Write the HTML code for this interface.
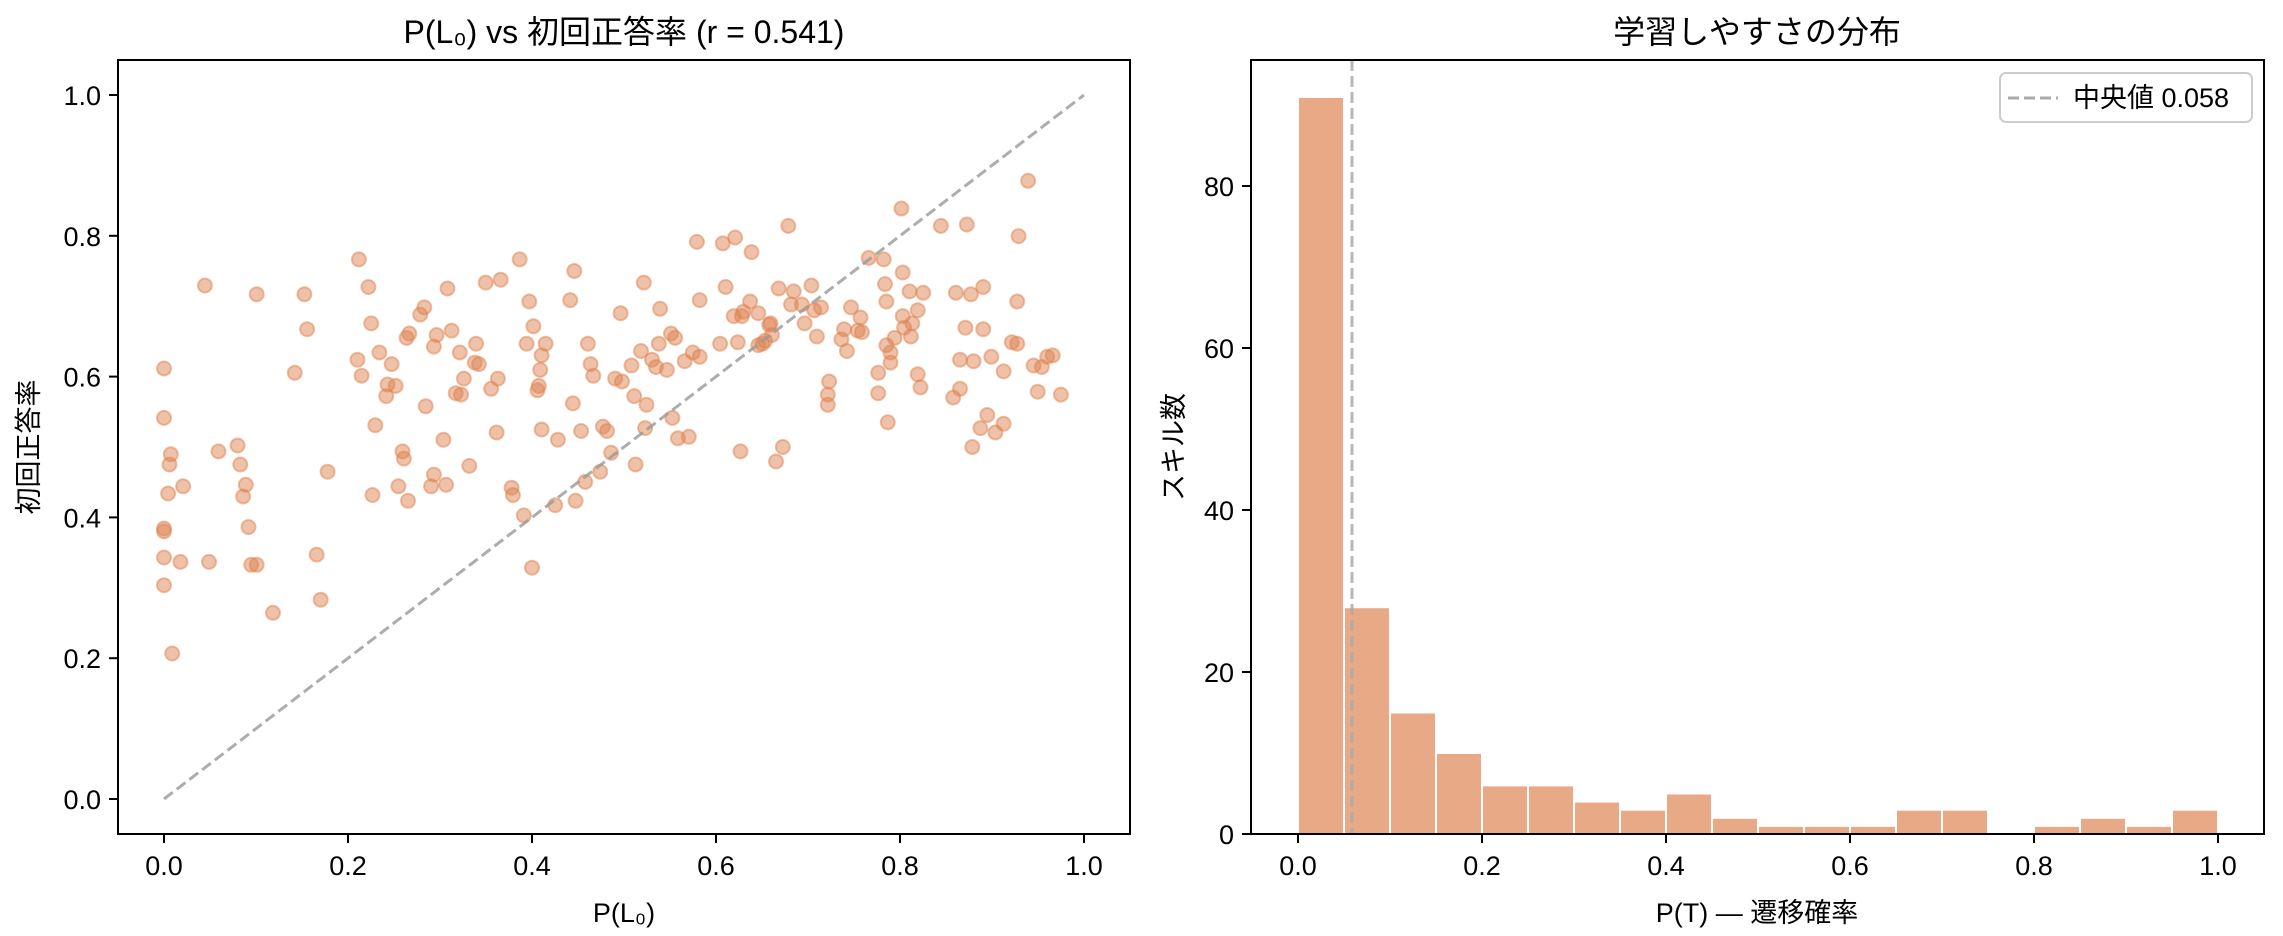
<!DOCTYPE html>
<html><head><meta charset="utf-8"><style>
html,body{margin:0;padding:0;background:#fff;}
svg{display:block;font-family:"Liberation Sans","Noto Sans CJK JP",sans-serif;}
</style></head><body>
<svg id="s" width="2283" height="936" viewBox="0 0 2283 936" xmlns="http://www.w3.org/2000/svg">
<rect width="2283" height="936" fill="#fff"/>
<g id="pts"></g>
<line x1="164" y1="799" x2="1084" y2="95" stroke="#999" stroke-opacity="0.8" stroke-width="3" stroke-dasharray="11,5"/>
<rect x="118" y="60" width="1012" height="774" fill="none" stroke="#000" stroke-width="2"/>
<g id="lt" font-size="27" fill="#000"></g>
<text x="624" y="43" font-size="32" text-anchor="middle">P(L₀) vs 初回正答率 (r = 0.541)</text>
<text x="624" y="922" font-size="27" text-anchor="middle">P(L₀)</text>
<text transform="translate(38,447) rotate(-90)" font-size="27" text-anchor="middle">初回正答率</text>

<g id="bars"></g>
<line x1="1352" y1="60" x2="1352" y2="834" stroke="#aaa" stroke-opacity="0.85" stroke-width="3" stroke-dasharray="11,5"/>
<rect x="1251" y="60" width="1013" height="774" fill="none" stroke="#000" stroke-width="2"/>
<g id="rt" font-size="27" fill="#000"></g>
<text x="1757" y="43" font-size="32" text-anchor="middle">学習しやすさの分布</text>
<text x="1757" y="922" font-size="27" text-anchor="middle">P(T) — 遷移確率</text>
<text transform="translate(1183,447) rotate(-90)" font-size="27" text-anchor="middle">スキル数</text>
<rect x="2000" y="73" width="252" height="49" rx="6" fill="#fff" fill-opacity="0.8" stroke="#ccc" stroke-width="2"/>
<line x1="2008" y1="98" x2="2058" y2="98" stroke="#aaa" stroke-width="3" stroke-dasharray="11,5"/>
<text x="2073" y="107" font-size="27">中央値 0.058</text>
</svg>
<script>
var NS="http://www.w3.org/2000/svg";
function el(p,t,a,txt){var e=document.createElementNS(NS,t);for(var k in a)e.setAttribute(k,a[k]);if(txt!==undefined)e.textContent=txt;p.appendChild(e);return e;}
var P=[[112,253],[112,287],[116,319],[115,339],[112,363],[112,365],[112,383],[112,402],[117,312],[118,449],
[126,334],[124,386],[142,196],[145,386],[152,310],[166,306],[168,319],[170,341],[172,333],[174,362],[176,388],[180,202],[180,388],[192,421],[208,256],[215,202],[217,226],[224,381],[227,412],[232,324],
[254,247],[255,178],[257,258],[262,197],[264,222],[265,340],[267,292],[270,242],[275,272],[276,264],[279,250],[282,265],[284,334],[287,310],[288,315],[290,232],[292,229],[291,344],[300,216],[303,211],[304,279],[308,334],[310,326],[310,238],[312,230],[317,302],[319,333],[320,198],[323,227],[326,270],[329,242],[330,271],[332,260],[336,320],[340,249],[341,236],[343,250],[348,194],[352,267],[356,297],[357,260],[359,192],[367,335],[368,340],[373,178],[376,354],[378,236],[380,207],[382,390],[383,224],[386,268],[387,265],[388,254],[389,244],[389,295],[392,236],[399,347],[401,302],[410,206],[412,277],[413,186],[414,344],[418,296],[421,331],[423,236],[425,250],[427,258],[432,324],[434,293],[437,296],[440,311],[443,260],[447,215],[448,262],[455,251],[457,272],[458,319],[462,241],[464,194],[465,294],[466,278],[470,247],[473,252],[476,212],[475,236],[481,254],[484,229],[485,287],[487,232],[489,301],[494,248],[497,300],[500,242],[503,166],[505,206],[505,245],[520,236],[522,167],[524,197],[531,163],[533,235],[535,310],[536,217],[537,214],[530,217],[543,173],[542,207],[548,215],[548,237],[551,236],[553,234],[557,222],[556,223],[558,230],[561,317],[563,198],[566,307],[570,155],[572,209],[574,200],[580,209],[582,222],[587,196],[589,213],[591,231],[594,211],[599,278],[600,262],[599,271],[609,233],[611,226],[613,241],[616,211],[621,227],[623,218],[624,228],[629,177],[636,270],[636,256],[640,178],[641,195],[642,207],[642,237],[643,290],[645,242],[645,249],[648,232],[653,143],[654,187],[654,217],[655,225],[659,200],[660,231],[661,222],[665,213],[665,257],[667,266],[669,201],[682,155],[691,273],[693,201],[696,247],[696,267],[700,225],[701,154],[704,202],[705,307],[706,248],[711,294],[713,197],[713,226],[716,285],[719,245],[722,297],[728,255],[728,291],[734,235],[738,207],[738,236],[739,162],[746,124],[750,251],[753,269],[756,252],[760,245],[764,244],[770,271]];
var g=document.getElementById("pts");
P.forEach(function(p){var x=164+(p[0]-112)*1.363, y=95+(p[1]-65)*704/484;
el(g,"circle",{cx:x.toFixed(1),cy:y.toFixed(1),r:7,fill:"#dd8452","fill-opacity":0.5,stroke:"#dd8452","stroke-opacity":0.5,"stroke-width":2});});
var lt=document.getElementById("lt");
for(var i=0;i<=5;i++){var v=i*0.2,x=164+v*920,y=799-v*704;
el(lt,"line",{x1:x,y1:834,x2:x,y2:843,stroke:"#000","stroke-width":2});
el(lt,"text",{x:x,y:875,"text-anchor":"middle"},v.toFixed(1));
el(lt,"line",{x1:109,y1:y,x2:118,y2:y,stroke:"#000","stroke-width":2});
el(lt,"text",{x:101,y:y+10,"text-anchor":"end"},v.toFixed(1));}
var C=[91,28,15,10,6,6,4,3,5,2,1,1,1,3,3,0,1,2,1,3];
var b=document.getElementById("bars");
C.forEach(function(c,i){if(!c)return;var x=1298+i*46,h=c*8.1;
el(b,"rect",{x:x,y:834-h,width:46,height:h,fill:"#dd8452","fill-opacity":0.7,stroke:"#fff","stroke-width":2});});
var rt=document.getElementById("rt");
for(var i=0;i<=5;i++){var v=i*0.2,x=1298+v*920;
el(rt,"line",{x1:x,y1:834,x2:x,y2:843,stroke:"#000","stroke-width":2});
el(rt,"text",{x:x,y:875,"text-anchor":"middle"},v.toFixed(1));}
for(var i=0;i<=4;i++){var v=i*20,y=834-v*8.1;
el(rt,"line",{x1:1242,y1:y,x2:1251,y2:y,stroke:"#000","stroke-width":2});
el(rt,"text",{x:1234,y:y+10,"text-anchor":"end"},String(v));}
</script>
</body></html>
